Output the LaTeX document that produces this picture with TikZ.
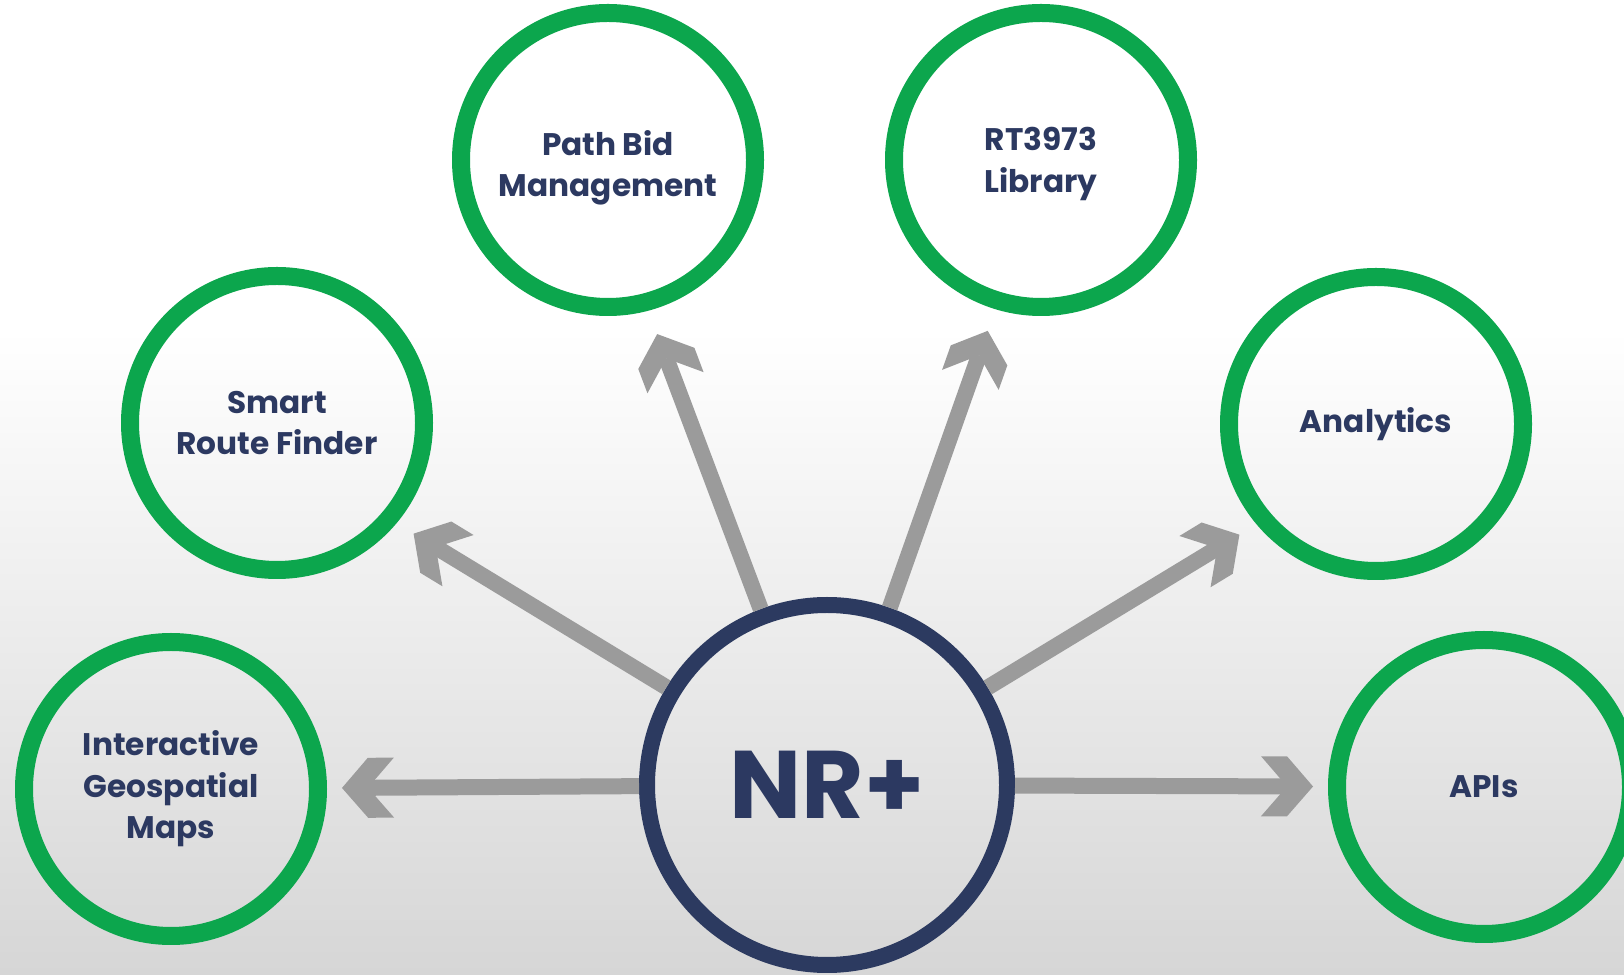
\documentclass[tikz,border=0pt]{standalone}
\usepackage{fontspec}
\setmainfont{Poppins}
\usetikzlibrary{arrows.meta}
\definecolor{ringgreen}{RGB}{12,166,77}
\definecolor{ringnavy}{RGB}{44,58,96}
\definecolor{textnavy}{RGB}{44,57,97}
\definecolor{arrowgray}{RGB}{155,155,155}
\definecolor{bgbottom}{RGB}{214,214,214}
% chunky chevron head with flat barb ends
\pgfdeclarearrow{
  name = Chevron,
  setup code = {
    \pgfarrowssettipend{0bp}
    \pgfarrowssetlineend{-13bp}
    \pgfarrowssetbackend{-26bp}
  },
  drawing code = {
    \pgfpathmoveto{\pgfpoint{0bp}{0bp}}
    \pgfpathlineto{\pgfpoint{-13bp}{15bp}}
    \pgfpathlineto{\pgfpoint{-26bp}{15bp}}
    \pgfpathlineto{\pgfpoint{-13bp}{0bp}}
    \pgfpathlineto{\pgfpoint{-26bp}{-15bp}}
    \pgfpathlineto{\pgfpoint{-13bp}{-15bp}}
    \pgfpathclose
    \pgfusepathqfill
  }
}
\begin{document}
\begin{tikzpicture}[>=Chevron,line join=bevel,
  hub/.style={circle,draw=ringnavy,line width=8bp,minimum size=180bp,inner sep=0pt,
    text=textnavy,font=\fontsize{48bp}{48bp}\selectfont\bfseries},
  module/.style={circle,draw=ringgreen,line width=9bp,minimum size=147bp,inner sep=0pt,
    text=textnavy,align=center,font=\fontsize{15.6bp}{20.7bp}\selectfont\bfseries},
  link/.style={->,draw=arrowgray,fill=arrowgray,line width=8bp}]
  \useasboundingbox (0bp,0bp) rectangle (812bp,487.5bp);
%%
  % Background
  \fill[white] (0bp,0bp) rectangle (812bp,487.5bp);
  \shade[top color=white,bottom color=bgbottom] (0bp,0bp) rectangle (812bp,322.5bp);
  % Node: NR+
  \node[hub] (nr) at (413.5bp,95bp) {NR+};
  % Node: Interactive Geospatial Maps
  \node[module] (igm) at (85.5bp,93bp) {Interactive\\Geospatial\\Maps};
  % Node: Smart Route Finder
  \node[module] (srf) at (138.5bp,276bp) {Smart\\Route Finder};
  % Node: Path Bid Management
  \node[module] (pbm) at (304bp,407.5bp) {\rule{0pt}{20.3bp}Path Bid\\Management};
  % Node: RT3973 Library
  \node[module] (lib) at (520.5bp,407.5bp) {\rule{0pt}{15.5bp}RT3973\\Library};
  % Node: Analytics
  \node[module] (ana) at (688bp,275.5bp) {Analytics};
  % Node: APIs
  \node[module] (api) at (742bp,94bp) {APIs};
%
  % Edge: NR+ -> Interactive Geospatial Maps
  \draw [link,shorten >=7.5bp] (nr) -- (igm);
  % Edge: NR+ -> Smart Route Finder
  \draw [link,shorten >=10bp] (nr) -- (srf.-40);
  % Edge: NR+ -> Path Bid Management
  \draw [link,shorten >=12.5bp] (nr) -- (pbm.-75);
  % Edge: NR+ -> RT3973 Library
  \draw [link,shorten >=11.5bp] (nr) -- (lib.-107);
  % Edge: NR+ -> Analytics
  \draw [link,shorten >=10bp] (nr) -- (ana.-140);
  % Edge: NR+ -> APIs
  \draw [link,shorten >=7.5bp] (nr) -- (api);
%
\end{tikzpicture}
\end{document}
